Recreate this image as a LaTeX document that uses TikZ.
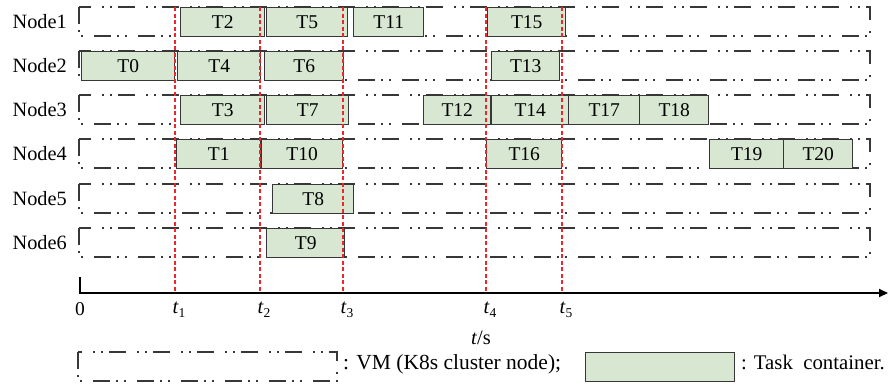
\documentclass[tikz,border=0pt]{standalone}
\usepackage{fontspec}
\setmainfont{Liberation Serif}
\usetikzlibrary{arrows.meta}

\definecolor{taskgreen}{RGB}{216,231,210}
\definecolor{edgegray}{RGB}{55,55,55}
\definecolor{markred}{RGB}{232,40,45}

\tikzset{
  vm/.style={draw=edgegray, line width=1.2pt,
    dash pattern=on 17pt off 6pt on 2pt off 6pt on 2pt off 11pt},
  task/.style={draw=edgegray, fill=taskgreen, line width=1.4pt,
    anchor=north west, minimum height=29pt, inner sep=0pt},
  tline/.style={draw=markred, line width=1.2pt, dash pattern=on 4pt off 2.5pt},
  axis/.style={draw=black, line width=1.8pt},
  rowlabel/.style={anchor=east, inner sep=0pt, font=\fontsize{20.3pt}{24pt}\selectfont},
  legtext/.style={anchor=base west, inner sep=0pt, font=\fontsize{21.5pt}{25pt}\selectfont},
  every node/.style={font=\fontsize{19.5pt}{23pt}\selectfont},
}

\begin{document}
\begin{tikzpicture}[x=1pt,y=-1pt]
            \useasboundingbox (0,0) rectangle (888,384);

            % cluster nodes (VMs)
            \foreach \k/\y in {1/7,2/51,3/95,4/139,5/184,6/228}{
              \draw[vm] (79,\y) rectangle (870,\y+29);
              \node[rowlabel] (lbl\k) at (67,\y+14.5) {Node\k};
            }

            % task containers
            \node[task, minimum width=84pt] (T2) at (180,7) {T2};
            \node[task, minimum width=81pt] (T5) at (266,7) {T5};
            \node[task, minimum width=70pt] (T11) at (353,7) {T11};
            \node[task, minimum width=78pt] (T15) at (487,7) {T15};

            \node[task, minimum width=93pt] (T0) at (81,51) {T0};
            \node[task, minimum width=83pt] (T4) at (177,51) {T4};
            \node[task, minimum width=79pt] (T6) at (264,51) {T6};
            \node[task, minimum width=68pt] (T13) at (491,51) {T13};

            \node[task, minimum width=84pt] (T3) at (180,95) {T3};
            \node[task, minimum width=82pt] (T7) at (266,95) {T7};
            \node[task, minimum width=67pt] (T12) at (423,95) {T12};
            \node[task, minimum width=77pt] (T14) at (491,95) {T14};
            \node[task, minimum width=71pt] (T17) at (568,95) {T17};
            \node[task, minimum width=69pt] (T18) at (639,95) {T18};

            \node[task, minimum width=84pt] (T1) at (176,139) {T1};
            \node[task, minimum width=81pt] (T10) at (261,139) {T10};
            \node[task, minimum width=75pt] (T16) at (486,139) {T16};
            \node[task, minimum width=74pt] (T19) at (709,139) {T19};
            \node[task, minimum width=69pt] (T20) at (783,139) {T20};

            \node[task, minimum width=81pt] (T8) at (272,184) {T8};

            \node[task, minimum width=78pt] (T9) at (266,228) {T9};

            % time axis
            \coordinate (o) at (80,293);
            \coordinate (ytop) at (80,277);
            \coordinate (xend) at (888,293);
            \draw[axis, -{Triangle[length=9pt,width=8pt]}] (ytop) -- (o) -- (xend);
            \node[anchor=north, inner sep=0pt] (zero) at (80,302) {0};

            % time marks
            \foreach \i/\x in {1/175,2/260,3/343,4/486,5/562}{
              \coordinate (top\i) at (\x,7);
              \coordinate (t\i) at (\x,293);
              \draw[tline] (top\i) -- (t\i);
              \node[anchor=north, inner sep=0pt, font=\fontsize{20.5pt}{24pt}\selectfont] (tl\i) at (\x+4,302)
                {\textit{t}\raisebox{-0.45ex}{\fontsize{13.5pt}{15pt}\selectfont\i}};
            }
            \node[font=\fontsize{20.5pt}{24pt}\selectfont] (tunit) at (481,338) {\textit{t}/s};

            % legend
            \draw[vm] (78,352) rectangle (337,381);
            \node[legtext] (vmtxt) at (343,369) {: VM (K8s cluster node);};
            \node[task, minimum width=149pt] (box) at (585,352) {};
            \node[legtext, font=\fontsize{20.8pt}{24pt}\selectfont] (tasktxt) at (741,369) {: Task\ \ container.};
        \end{tikzpicture}
\end{document}
